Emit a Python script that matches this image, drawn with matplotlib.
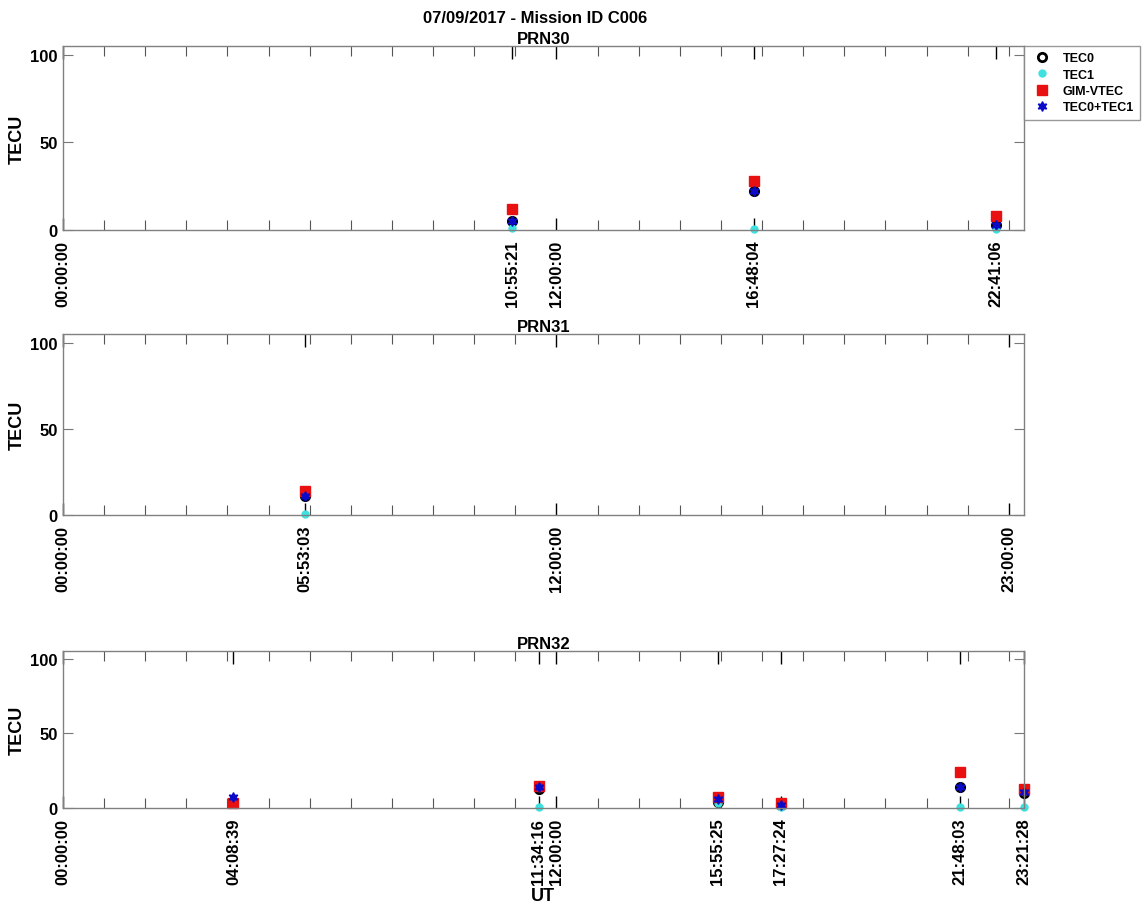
import numpy as np
import matplotlib

matplotlib.use('Agg')
import matplotlib.pyplot as plt
from matplotlib.ticker import FixedLocator

plt.rcParams['font.family'] = ['Liberation Sans', 'DejaVu Sans']
plt.rcParams['font.weight'] = 'bold'

title = '07/09/2017 - Mission ID C006'
prns = ['PRN30', 'PRN31', 'PRN32']

# observation times (UT) per satellite
times30 = ['10:55:21', '16:48:04', '22:41:06']
times31 = ['05:53:03']
times32 = ['04:08:39', '11:34:16', '15:55:25', '17:27:24', '21:48:03', '23:21:28']

# TECU values
tec0_30 = [5, 22, 3]
tec1_30 = [1, 0.5, 0.5]
gim_30 = [12, 28, 8]
sum_30 = [5, 22, 3]

tec0_31 = [11]
tec1_31 = [0.5]
gim_31 = [14]
sum_31 = [11]

tec0_32 = [4, 13, 4, 2, 14, 10]
tec1_32 = [3, 0.5, 3, 0.5, 0.5, 0.5]
gim_32 = [3, 15, 7, 3, 24, 13]
sum_32 = [7, 14, 6, 2, 14, 11]

# extra labelled ticks besides the observation times
extra_ticks = [['00:00:00', '12:00:00'],
               ['00:00:00', '12:00:00', '23:00:00'],
               ['00:00:00', '12:00:00']]


def to_hours(s):
    h, m, sec = [int(v) for v in s.split(':')]
    return h + m / 60 + sec / 3600


panels = [
    (times30, tec0_30, tec1_30, gim_30, sum_30),
    (times31, tec0_31, tec1_31, gim_31, sum_31),
    (times32, tec0_32, tec1_32, gim_32, sum_32),
]

fig = plt.figure(figsize=(11.45, 9.12), dpi=100)
rects = [[0.055, 0.7467, 0.839, 0.2018],
         [0.055, 0.434, 0.839, 0.1985],
         [0.055, 0.113, 0.839, 0.172]]

star6 = (6, 1, 0)
for i, (times, t0, t1, gim, tsum) in enumerate(panels):
    ax = fig.add_axes(rects[i])
    x = [to_hours(t) for t in times]
    ax.plot(x, t0, 'o', mfc='none', mec='black', mew=2, ms=6, label='TEC0', clip_on=False)
    ax.plot(x, t1, 'o', color='#3fe0e0', ms=5, label='TEC1', clip_on=False)
    ax.plot(x, gim, 's', color='#e81010', ms=7, label='GIM-VTEC', clip_on=False)
    ax.plot(x, tsum, marker=star6, ls='none', color='#0a0ac8', ms=7, label='TEC0+TEC1', clip_on=False)

    ax.set_xlim(0, 23.36)
    ax.set_ylim(0, 105)

    labels = sorted(set(extra_ticks[i] + times), key=to_hours)
    ax.set_xticks([to_hours(t) for t in labels])
    ax.set_xticklabels(labels, rotation=90, fontsize=12, fontweight='bold')
    ax.xaxis.set_minor_locator(FixedLocator(np.arange(1, 24)))
    ax.set_yticks([0, 50, 100])
    ax.set_yticklabels(['0', '50', '100'], fontsize=12, fontweight='bold')

    ax.tick_params(axis='x', which='major', direction='in', length=9, width=1,
                   top=True, color='black', pad=7)
    ax.tick_params(axis='x', which='minor', direction='in', length=7, width=0.8,
                   top=True, color='#555555')
    ax.tick_params(axis='y', direction='in', length=7, width=0.8, right=True,
                   color='#777777', pad=4)
    for sp in ax.spines.values():
        sp.set_color('#808080')
        sp.set_linewidth(1)

    ax.set_ylabel('TECU', fontsize=13, fontweight='bold', labelpad=3)
    ax.set_title(prns[i], fontsize=12, fontweight='bold', pad=2)

    if i == 0:
        leg = ax.legend(loc='upper left', bbox_to_anchor=(1.0, 1.0),
                        frameon=True, fancybox=False, borderaxespad=0,
                        handletextpad=0.6, borderpad=0.5, labelspacing=0.35,
                        prop={'weight': 'bold', 'size': 9})
        leg.get_frame().set_edgecolor('#808080')
        leg.get_frame().set_linewidth(1)
    if i == 2:
        ax.set_xlabel('UT', fontsize=13, fontweight='bold', labelpad=2)

fig.text(0.467, 0.972, title, ha='center', va='bottom', fontsize=12, fontweight='bold')

plt.savefig('out.png', dpi=100)
